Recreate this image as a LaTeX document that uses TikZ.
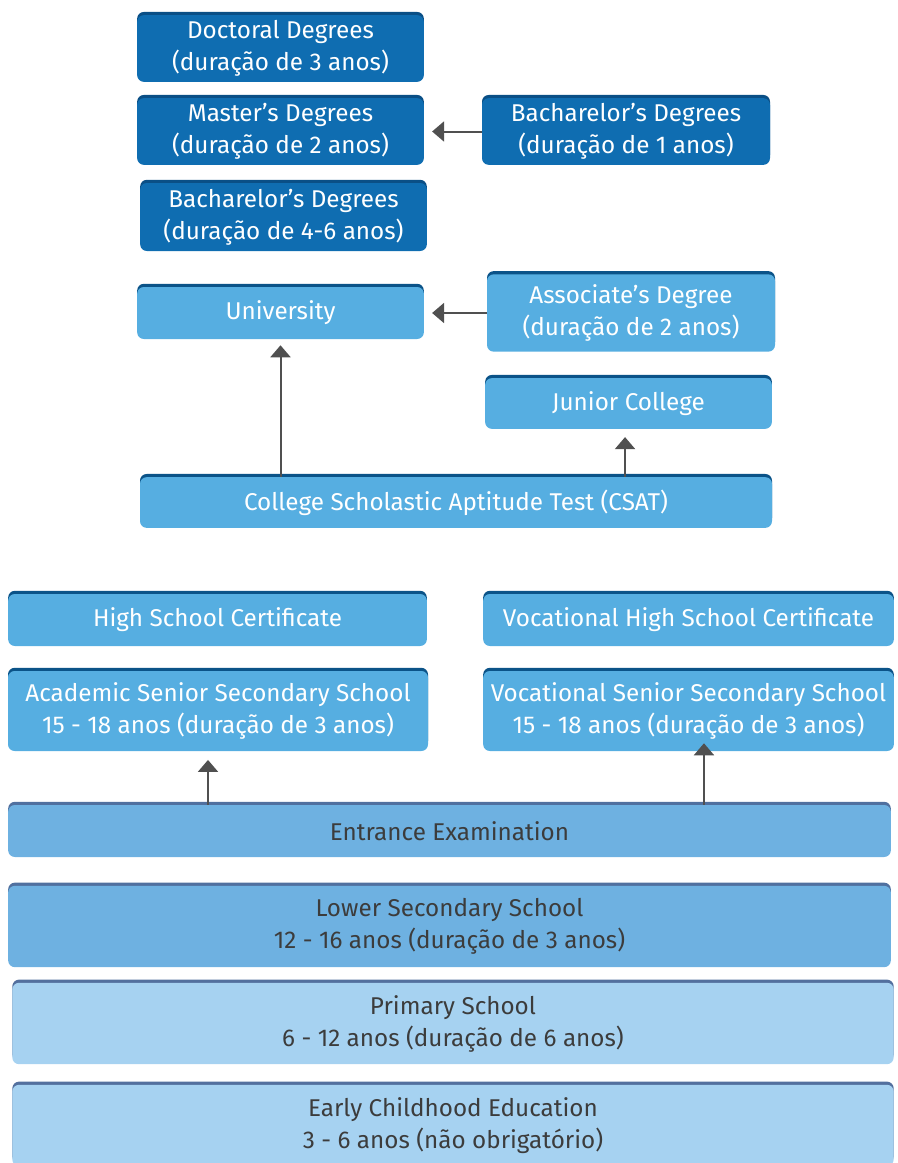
\documentclass[tikz,border=0pt]{standalone}
\usepackage{fontspec}
\setmainfont{Fira Sans}
\usetikzlibrary{arrows.meta}
\usetikzlibrary{shadows}

\definecolor{degblue}{HTML}{0F6DB1}
\definecolor{degedge}{HTML}{0A4F86}
\definecolor{midblue}{HTML}{56AEE1}
\definecolor{midedge}{HTML}{0B5388}
\definecolor{exblue}{HTML}{6EB1E1}
\definecolor{exedge}{HTML}{50709F}
\definecolor{paleblue}{HTML}{A6D2F1}
\definecolor{paleedge}{HTML}{53709E}
\definecolor{txtgray}{HTML}{3C3C3C}
\definecolor{arrgray}{HTML}{505050}

\begin{document}
\begin{tikzpicture}[x=0.75pt, y=-0.75pt,
  box/.style={rounded corners=5pt, align=center, inner sep=0pt,
    font=\fontsize{18.2}{24}\selectfont},
  degree/.style={box, fill=degblue, text=white,
    general shadow={fill=degedge, shadow yshift=2.4pt}},
  school/.style={box, fill=midblue, text=white,
    general shadow={fill=midedge, shadow yshift=2.4pt}},
  exam/.style={box, fill=exblue, text=txtgray,
    general shadow={fill=exedge, shadow yshift=2.4pt}},
  basic/.style={box, fill=paleblue, text=txtgray,
    general shadow={fill=paleedge, shadow yshift=2.4pt}},
  link/.style={draw=arrgray, line width=1.5pt,
    -{Triangle[width=15pt, length=9pt]}}]
\useasboundingbox (0,0) rectangle (897,1163);
\begin{scope}
\clip (0,0) rectangle (897,1163);
% higher education
\node[degree, minimum width=215pt, minimum height=50pt] (doc) at (280.5,48.5) {Doctoral Degrees\\(duração de 3 anos)};
\node[degree, minimum width=215pt, minimum height=50pt] (mast) at (280.5,131.5) {Master’s Degrees\\(duração de 2 anos)};
\node[degree, minimum width=216pt, minimum height=50pt] (bachone) at (626,131.5) {Bacharelor’s Degrees\\(duração de 1 anos)};
\node[degree, minimum width=215pt, minimum height=51pt] (bachfour) at (283.5,217) {Bacharelor’s Degrees\\(duração de 4-6 anos)};
\node[school, minimum width=215pt, minimum height=39pt] (univ) at (280.5,313) {University};
\node[school, minimum width=216pt, minimum height=58pt] (assoc) at (631,313) {Associate’s Degree\\(duração de 2 anos)};
\node[school, minimum width=215pt, minimum height=38pt] (junior) at (628.5,403.5) {Junior College};
\node[school, minimum width=474pt, minimum height=38pt] (csat) at (456,502.5) {College Scholastic Aptitude Test (CSAT)};
% secondary education
\node[school, minimum width=314pt, minimum height=39pt] (hsc) at (217.5,620) {High School Certificate};
\node[school, minimum width=308pt, minimum height=39pt] (vhsc) at (688.5,620) {Vocational High School Certificate};
\node[school, minimum width=315pt, minimum height=60pt] (acad) at (218,711) {Academic Senior Secondary School\\15 - 18 anos (duração de 3 anos)};
\node[school, minimum width=308pt, minimum height=60pt] (voc) at (688.5,711) {Vocational Senior Secondary School\\15 - 18 anos (duração de 3 anos)};
\node[exam, minimum width=662pt, minimum height=39pt] (entr) at (449.5,831) {Entrance Examination};
\node[exam, minimum width=662pt, minimum height=61pt] (lower) at (449.5,926.5) {Lower Secondary School\\12 - 16 anos (duração de 3 anos)};
% basic education
\node[basic, minimum width=661pt, minimum height=61pt] (prim) at (453,1023.5) {Primary School\\6 - 12 anos (duração de 6 anos)};
\node[basic, minimum width=661pt, minimum height=61pt] (early) at (453,1125.5) {Early Childhood Education\\3 - 6 anos (não obrigatório)};
\end{scope}
% connectors
\draw[link, shorten >=6pt] (bachone.west) -- (mast.east);
\draw[link, shorten >=6pt] (assoc.west) -- (univ.east);
\draw[link, shorten >=4.5pt] (csat.north -| univ.south) -- (univ.south);
\draw[link, shorten >=6pt] ([xshift=-2.6pt]csat.north -| junior.south) -- ([xshift=-2.6pt]junior.south);
\draw[link, shorten >=6.5pt] ([xshift=-7.5pt]entr.north -| acad.south) -- ([xshift=-7.5pt]acad.south);
\draw[link, shorten >=-6pt] ([xshift=11.6pt]entr.north -| voc.south) -- ([xshift=11.6pt]voc.south);
\end{tikzpicture}
\end{document}
